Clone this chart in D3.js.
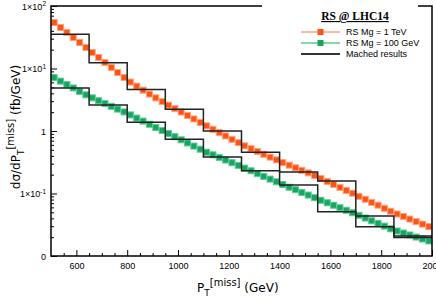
<!DOCTYPE html>
<html>
<head>
<meta charset="utf-8">
<script src="https://cdn.jsdelivr.net/npm/d3@7"></script>
<style>
body{margin:0;background:#fff;}
svg{display:block;}
</style>
</head>
<body>
<div id="myGraph"></div>
<script>
// missing pT bin centres (GeV)
var ptCenters = [512.5, 537.5, 562.5, 587.5, 612.5, 637.5, 662.5, 687.5, 712.5, 737.5,
  762.5, 787.5, 812.5, 837.5, 862.5, 887.5, 912.5, 937.5, 962.5, 987.5,
  1012.5, 1037.5, 1062.5, 1087.5, 1112.5, 1137.5, 1162.5, 1187.5, 1212.5, 1237.5,
  1262.5, 1287.5, 1312.5, 1337.5, 1362.5, 1387.5, 1412.5, 1437.5, 1462.5, 1487.5,
  1512.5, 1537.5, 1562.5, 1587.5, 1612.5, 1637.5, 1662.5, 1687.5, 1712.5, 1737.5,
  1762.5, 1787.5, 1812.5, 1837.5, 1862.5, 1887.5, 1912.5, 1937.5, 1962.5, 1987.5];

var rsMg1TeV = [54.5, 45.3, 37.7, 31.3, 26.1, 21.7, 18.0, 15.0, 12.5, 10.4,
  8.63, 7.18, 6.07, 5.22, 4.51, 3.90, 3.39, 2.95, 2.59, 2.28,
  2.01, 1.77, 1.56, 1.37, 1.21, 1.065, 0.941, 0.833, 0.736, 0.650,
  0.579, 0.522, 0.471, 0.424, 0.382, 0.345, 0.312, 0.284, 0.258, 0.235,
  0.214, 0.194, 0.174, 0.156, 0.140, 0.125, 0.112, 0.101, 0.090, 0.081,
  0.072, 0.065, 0.058, 0.052, 0.047, 0.043, 0.039, 0.0355, 0.0324, 0.0295];

var rsMg100GeV = [7.13, 6.28, 5.53, 4.89, 4.31, 3.79, 3.39, 3.05, 2.75, 2.48,
  2.24, 2.02, 1.81, 1.61, 1.44, 1.28, 1.14, 1.02, 0.910, 0.811,
  0.723, 0.644, 0.574, 0.512, 0.458, 0.416, 0.378, 0.343, 0.311, 0.282,
  0.255, 0.231, 0.208, 0.188, 0.170, 0.154, 0.139, 0.126, 0.115, 0.104,
  0.0944, 0.0857, 0.078, 0.0711, 0.0649, 0.0592, 0.054, 0.0492, 0.0447, 0.0405,
  0.0366, 0.0332, 0.0301, 0.0272, 0.0251, 0.0233, 0.0217, 0.0201, 0.0187, 0.0174];

// matched results, 150 GeV bins
var matchedEdges = [500, 650, 800, 950, 1100, 1250, 1400, 1550, 1700, 1850, 2000];
var matchedUpper = [35.2, 12.4, 4.6, 2.22, 1.0, 0.456, 0.221, 0.158, 0.0437, 0.0209];
var matchedLower = [4.88, 2.6, 1.38, 0.736, 0.384, 0.232, 0.137, 0.0512, 0.0294, 0.0198];

var xTickValues = [600, 800, 1000, 1200, 1400, 1600, 1800, 2000];
var xTickLabels = ["600", "800", "1000", "1200", "1400", "1600", "1800", "2000"];
var yTickValues = [0.01, 0.1, 1, 10, 100];
var yTickBase = ["0", "1\u00d710", "1", "1\u00d710", "1\u00d710"];
var yTickExp = ["", "-1", "", "1", "2"];

var seriesNames = ["RS Mg = 1 TeV", "RS Mg = 100 GeV", "Mached results"];

var w = 436, h = 308;
var pLeft = 51, pRight = 432, pTop = 6, pBottom = 256;
var orange = "#ff5414", orangeLight = "#ffa27e";
var green = "#16a562", greenLight = "#5ccb92";

var vis = d3.select("#myGraph").append("svg").attr("width", w).attr("height", h);

var x = d3.scaleLinear().domain([500, 2000]).range([pLeft, pRight]);
var y = d3.scaleLog().domain([0.01, 100]).range([pBottom, pTop]);

// minor ticks
var xMinor = d3.range(550, 2000, 50).filter(function(v){ return v % 200 != 0; });
var yMinor = [];
[0.01, 0.1, 1, 10].forEach(function(d){ for (var k = 2; k < 10; k++) yMinor.push(d * k); });

var xMin = vis.append("g").attr("transform", "translate(0," + pBottom + ")")
  .call(d3.axisBottom(x).tickValues(xMinor).tickSize(-3).tickFormat(""));
var xAx = vis.append("g").attr("transform", "translate(0," + pBottom + ")")
  .call(d3.axisBottom(x).tickValues(xTickValues).tickSize(-6).tickPadding(7)
    .tickFormat(function(d, i){ return xTickLabels[i]; }));
var yMin = vis.append("g").attr("transform", "translate(" + pLeft + ",0)")
  .call(d3.axisLeft(y).tickValues(yMinor).tickSize(-3).tickFormat(""));
var yAx = vis.append("g").attr("transform", "translate(" + pLeft + ",0)")
  .call(d3.axisLeft(y).tickValues(yTickValues).tickSize(-6).tickPadding(5).tickFormat(""));

[xMin, xAx, yMin, yAx].forEach(function(g){
  g.select(".domain").remove();
  g.selectAll(".tick line").attr("stroke", "#000").attr("stroke-width", 1);
  g.selectAll("text").style("font-family", "Liberation Sans").style("font-size", "9px").attr("fill", "#000");
});

yAx.selectAll(".tick text").each(function(d, i){
  var t = d3.select(this).attr("x", -5).attr("dy", "0.34em");
  t.append("tspan").text(yTickBase[i]);
  if (yTickExp[i]) t.append("tspan").attr("dy", -3.5).style("font-size", "6.5px").text(yTickExp[i]);
});

// connecting lines + markers
var line = d3.line().x(function(d){ return x(d[0]); }).y(function(d){ return y(d[1]); });
function drawSeries(vals, col, light) {
  var pts = ptCenters.map(function(p, i){ return [p, vals[i]]; });
  vis.append("path").attr("d", line(pts)).attr("fill", "none").attr("stroke", light).attr("stroke-width", 2);
  vis.append("g").selectAll("rect").data(pts).enter().append("rect")
    .attr("x", function(d){ return x(d[0]) - 3; }).attr("y", function(d){ return y(d[1]) - 3; })
    .attr("width", 6).attr("height", 6)
    .attr("fill", col).attr("stroke", light).attr("stroke-width", 1);
}
drawSeries(rsMg1TeV, orange, orangeLight);
drawSeries(rsMg100GeV, green, greenLight);

// matched step histograms
var step = d3.line().curve(d3.curveStepAfter)
  .x(function(d){ return x(d[0]); }).y(function(d){ return y(d[1]); });
[matchedUpper, matchedLower].forEach(function(vals){
  var pts = vals.map(function(v, i){ return [matchedEdges[i], v]; });
  pts.push([matchedEdges[matchedEdges.length - 1], vals[vals.length - 1]]);
  vis.append("path").attr("d", step(pts)).attr("fill", "none").attr("stroke", "#222").attr("stroke-width", 1.5);
});

// frame
vis.append("rect").attr("x", pLeft).attr("y", pTop).attr("width", pRight - pLeft).attr("height", pBottom - pTop)
  .attr("fill", "none").attr("stroke", "#000").attr("stroke-width", 1.5);

// legend
var leg = vis.append("g");
leg.append("rect").attr("x", 262).attr("y", 0).attr("width", 156).attr("height", 66).attr("fill", "#fff");
leg.append("text").attr("x", 355).attr("y", 20).attr("text-anchor", "middle")
  .style("font-family", "Liberation Serif").style("font-weight", "bold").style("font-size", "11.5px")
  .style("text-decoration", "underline").text("RS @ LHC14");
var legCols = [[orange, orangeLight], [green, greenLight], ["#333", "#333"]];
seriesNames.forEach(function(name, i){
  var ly = 32 + i * 11;
  leg.append("line").attr("x1", 301).attr("x2", 340).attr("y1", ly).attr("y2", ly)
    .attr("stroke", legCols[i][1]).attr("stroke-width", i == 2 ? 2 : 1.5);
  if (i < 2) leg.append("rect").attr("x", 317.5).attr("y", ly - 3).attr("width", 6).attr("height", 6).attr("fill", legCols[i][0]);
  leg.append("text").attr("x", 346).attr("y", ly + 3)
    .style("font-family", "Liberation Sans").style("font-size", "9px").text(name);
});

// axis titles
var xt = vis.append("text").attr("x", 197).attr("y", 292)
  .style("font-family", "DejaVu Sans").style("font-size", "12px");
xt.append("tspan").text("P");
xt.append("tspan").attr("dy", 4).style("font-size", "9px").text("T");
xt.append("tspan").attr("dy", -10).style("font-size", "10px").text("[miss]");
xt.append("tspan").attr("dy", 6).text(" (GeV)");

var yt = vis.append("text").attr("transform", "translate(20,127) rotate(-90)").attr("text-anchor", "middle")
  .style("font-family", "DejaVu Sans").style("font-size", "12px");
yt.append("tspan").text("d\u03c3/dP");
yt.append("tspan").attr("dy", 4).style("font-size", "9px").text("T");
yt.append("tspan").attr("dy", -10).style("font-size", "10px").text("[miss]");
yt.append("tspan").attr("dy", 6).text(" (fb/GeV)");
</script>
</body>
</html>
